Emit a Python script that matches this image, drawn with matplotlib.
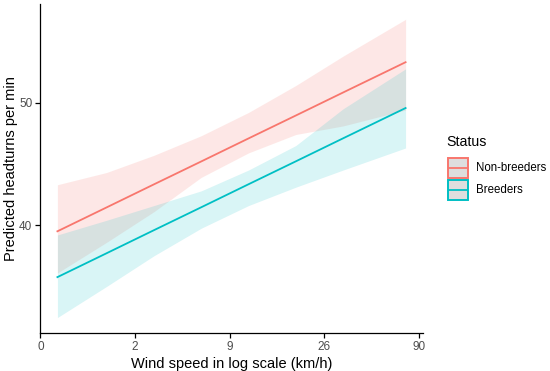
import matplotlib
matplotlib.use("Agg")
import matplotlib.pyplot as plt
from matplotlib.patches import Rectangle
from matplotlib.lines import Line2D

plt.rcParams['font.family'] = ['Liberation Sans', 'DejaVu Sans']

# Data (x in log-scale axis units; tick labels give wind speed in km/h)
x_pos = [0.18, 0.7, 1.2, 1.7, 2.2, 2.7, 3.2, 3.86]

nb_fit = [39.5, 41.45, 43.33, 45.2, 47.08, 48.95, 50.83, 53.3]
nb_upper = [43.3, 44.3, 45.7, 47.3, 49.2, 51.4, 53.8, 56.8]
nb_lower = [36.1, 38.6, 41.1, 43.9, 45.9, 47.4, 48.1, 49.4]

br_fit = [35.76, 37.71, 39.59, 41.46, 43.34, 45.21, 47.09, 49.56]
br_upper = [39.2, 40.4, 41.6, 42.8, 44.5, 46.5, 49.5, 52.76]
br_lower = [32.46, 35.0, 37.5, 39.75, 41.6, 43.1, 44.5, 46.3]

x_ticks = [0, 1, 2, 3, 4]
x_tick_labels = ["0", "2", "9", "26", "90"]
y_ticks = [40, 50]

status = ["Non-breeders", "Breeders"]
colors = ["#F8766D", "#00BFC4"]

W, H = 550, 371
fig = plt.figure(figsize=(W/100, H/100), dpi=100)
ax = fig.add_axes([40/W, 38/H, 383/W, 329/H])

ax.fill_between(x_pos, nb_lower, nb_upper, color=colors[0], alpha=0.17, linewidth=0)
ax.fill_between(x_pos, br_lower, br_upper, color=colors[1], alpha=0.15, linewidth=0)
ax.plot(x_pos, nb_fit, color=colors[0], linewidth=1.3)
ax.plot(x_pos, br_fit, color=colors[1], linewidth=1.3)

ax.set_xlim(-0.004, 4.044)
ax.set_ylim(31.2, 58.05)
ax.set_xticks(x_ticks)
ax.set_xticklabels(x_tick_labels)
ax.set_yticks(y_ticks)

for s in ["top", "right"]:
    ax.spines[s].set_visible(False)
for s in ["left", "bottom"]:
    ax.spines[s].set_linewidth(0.9)
    ax.spines[s].set_color("black")
ax.tick_params(axis="both", direction="out", length=3.5, width=0.9,
               colors="black", labelcolor="#4D4D4D", labelsize=8.5, pad=2)

ax.set_xlabel("Wind speed in log scale (km/h)", fontsize=10.5, labelpad=3)
ax.set_ylabel("Predicted headturns per min", fontsize=10.5, labelpad=1)

# Manual legend (figure pixel coordinates, origin top-left)
def fx(px):
    return px / W

def fy(py):
    return 1 - py / H

fig.text(fx(446), fy(142), "Status", fontsize=10.2, ha="left", va="center")
key_w, key_h = 22, 22
key_x = 447
for i, (lab, c) in enumerate(zip(status, colors)):
    top = 157 + i * key_h
    rect = Rectangle((fx(key_x + 1), fy(top + key_h - 1)), (key_w - 2) / W, (key_h - 2) / H,
                     transform=fig.transFigure, facecolor="#DEDEDE",
                     edgecolor=c, linewidth=1.4)
    fig.add_artist(rect)
    cy = top + key_h / 2
    fig.add_artist(Line2D([fx(key_x + 2), fx(key_x + key_w - 2)], [fy(cy), fy(cy)],
                          transform=fig.transFigure, color=c, linewidth=1.3))
    fig.text(fx(476), fy(cy), lab, fontsize=8.3, ha="left", va="center")

fig.savefig("out.png", dpi=100)
